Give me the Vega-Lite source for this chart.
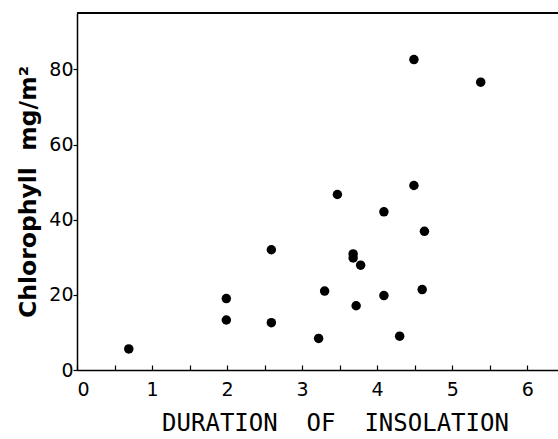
{
  "$schema": "https://vega.github.io/schema/vega-lite/v6.json",
  "width": 481,
  "height": 357,
  "autosize": {"type": "none"},
  "padding": {"left": 77, "top": 13, "right": 0, "bottom": 69},
  "background": "white",
  "config": {"view": {"stroke": null}},
  "data": {"values": [
    {"insolation": 0.69, "chlorophyll": 5.6},
    {"insolation": 1.99, "chlorophyll": 19.0},
    {"insolation": 1.99, "chlorophyll": 13.3},
    {"insolation": 2.59, "chlorophyll": 32.0},
    {"insolation": 2.59, "chlorophyll": 12.6},
    {"insolation": 3.22, "chlorophyll": 8.4},
    {"insolation": 3.30, "chlorophyll": 21.0},
    {"insolation": 3.47, "chlorophyll": 46.7},
    {"insolation": 3.68, "chlorophyll": 30.9},
    {"insolation": 3.68, "chlorophyll": 29.8},
    {"insolation": 3.78, "chlorophyll": 27.9},
    {"insolation": 3.72, "chlorophyll": 17.1},
    {"insolation": 4.09, "chlorophyll": 42.1},
    {"insolation": 4.09, "chlorophyll": 19.8},
    {"insolation": 4.30, "chlorophyll": 9.0},
    {"insolation": 4.49, "chlorophyll": 82.6},
    {"insolation": 4.49, "chlorophyll": 49.1},
    {"insolation": 4.63, "chlorophyll": 36.9},
    {"insolation": 4.60, "chlorophyll": 21.4},
    {"insolation": 5.38, "chlorophyll": 76.6}
  ]},
  "layer": [
    {
      "mark": {"type": "rule", "color": "black", "strokeWidth": 1.5},
      "encoding": {"y": {"datum": 95, "scale": {"domain": [0, 95]}}}
    },
    {
      "mark": {"type": "point", "filled": true, "color": "black", "opacity": 1, "size": 90, "shape": "circle"},
      "encoding": {
        "x": {
          "field": "insolation", "type": "quantitative",
          "scale": {"domain": [0, 6.41], "nice": false, "zero": false},
          "axis": {
            "title": "DURATION\u00a0 OF\u00a0 INSOLATION",
            "values": [0, 0.5, 1, 1.5, 2, 2.5, 3, 3.5, 4, 4.5, 5, 5.5, 6],
            "labelExpr": "datum.value % 1 == 0 ? format(datum.value, 'd') : ''",
            "grid": false,
            "domainColor": "black", "domainWidth": 1.5,
            "tickColor": "black", "tickWidth": 1.2, "tickSize": -5,
            "labelFont": "DejaVu Sans", "labelFontSize": 19, "labelColor": "black",
            "labelPadding": 15,
            "titleFont": "DejaVu Sans Mono", "titleFontSize": 24, "titleFontWeight": "normal", "titleColor": "black",
            "titleX": 258, "titlePadding": 12
          }
        },
        "y": {
          "field": "chlorophyll", "type": "quantitative",
          "scale": {"domain": [0, 95], "nice": false},
          "axis": {
            "title": "Chlorophyll\u00a0 mg/m²",
            "values": [0, 10, 20, 30, 40, 50, 60, 70, 80, 90],
            "labelExpr": "datum.value % 20 == 0 ? datum.label : ''",
            "grid": false,
            "domainColor": "black", "domainWidth": 1.5,
            "tickColor": "black", "tickWidth": 1.2, "tickSize": 4,
            "labelFont": "DejaVu Sans", "labelFontSize": 19, "labelColor": "black",
            "labelPadding": 0,
            "titleFont": "DejaVu Sans", "titleFontSize": 23.5, "titleFontWeight": "bold", "titleColor": "black",
            "titlePadding": 8
          }
        }
      }
    }
  ]
}
